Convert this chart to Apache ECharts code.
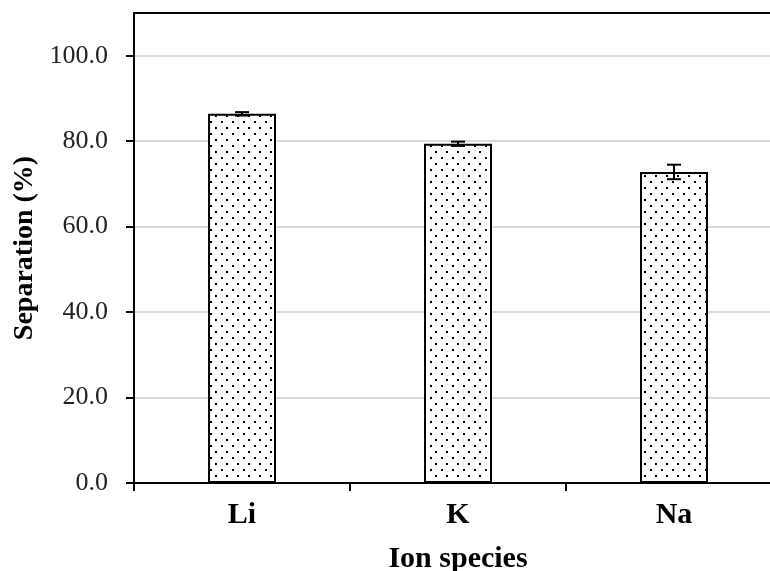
<!DOCTYPE html>
<html><head><meta charset="utf-8">
<script src="https://cdn.jsdelivr.net/npm/echarts@6/dist/echarts.min.js"></script>
<style>html,body{margin:0;padding:0;background:#fff}#c{width:770px;height:571px}</style>
</head><body><div id="c"></div>
<script>
var categories = ['Li', 'K', 'Na'];
var separation = [86.4, 79.4, 72.8];
var errors = [0.4, 0.5, 1.7];
var yTicks = [0, 20, 40, 60, 80, 100];

var FONT = '"Liberation Serif", "DejaVu Serif", serif';

function dotPattern() {
  var c = document.createElement('canvas');
  c.width = 11; c.height = 12;
  var g = c.getContext('2d');
  g.fillStyle = '#fff'; g.fillRect(0, 0, 11, 12);
  g.fillStyle = '#000';
  g.fillRect(1, 1, 2, 2);
  g.fillRect(6, 7, 2, 2);
  return c;
}

var chart = echarts.init(document.getElementById('c'), null, {renderer: 'canvas'});
chart.setOption({
  animation: false,
  grid: {left: 134, width: 648, top: 13, bottom: 88, containLabel: false, outerBoundsMode: 'none'},
  xAxis: [{
    type: 'category', data: categories, position: 'bottom',
    axisLine: {lineStyle: {color: '#000', width: 2}},
    axisTick: {show: true, length: 8, lineStyle: {color: '#000', width: 2}},
    axisLabel: {color: '#000', fontFamily: FONT, fontSize: 30, fontWeight: 'bold', margin: 17},
    name: 'Ion species', nameLocation: 'middle', nameGap: 61,
    nameTextStyle: {color: '#000', fontFamily: FONT, fontSize: 30, fontWeight: 'bold'}
  }, {
    type: 'category', data: categories, position: 'top',
    axisLine: {show: true, onZero: false, lineStyle: {color: '#000', width: 2}},
    axisTick: {show: false}, axisLabel: {show: false}
  }],
  yAxis: {
    type: 'value', min: 0, max: 110,
    axisLine: {show: true, lineStyle: {color: '#000', width: 2}},
    axisTick: {show: true, length: 8, customValues: yTicks, lineStyle: {color: '#000', width: 2}},
    axisLabel: {color: '#222', fontFamily: FONT, fontSize: 26, margin: 26, customValues: yTicks,
      formatter: function (v) { return v.toFixed(1); }},
    splitLine: {show: true, lineStyle: {color: '#d9d9d9', width: 2}},
    name: 'Separation (%)', nameLocation: 'middle', nameGap: 95,
    nameTextStyle: {color: '#000', fontFamily: FONT, fontSize: 28, fontWeight: 'bold'}
  },
  series: [{
    type: 'bar', data: separation, barWidth: 68, xAxisIndex: 0,
    itemStyle: {color: {image: dotPattern(), repeat: 'repeat'}, borderColor: '#000', borderWidth: 2},
    z: 2
  }, {
    type: 'custom', xAxisIndex: 0, z: 3,
    data: categories.map(function (c, i) { return [i, separation[i], errors[i]]; }),
    renderItem: function (params, api) {
      var x = api.value(0), v = api.value(1), e = api.value(2);
      var top = api.coord([x, v + e]);
      var bot = api.coord([x, v - e]);
      var hw = 7;
      var st = {stroke: '#000', lineWidth: 2};
      return {type: 'group', children: [
        {type: 'line', shape: {x1: top[0], y1: top[1], x2: bot[0], y2: bot[1]}, style: st},
        {type: 'line', shape: {x1: top[0] - hw, y1: top[1], x2: top[0] + hw, y2: top[1]}, style: st},
        {type: 'line', shape: {x1: bot[0] - hw, y1: bot[1], x2: bot[0] + hw, y2: bot[1]}, style: st}
      ]};
    }
  }]
});
</script></body></html>
